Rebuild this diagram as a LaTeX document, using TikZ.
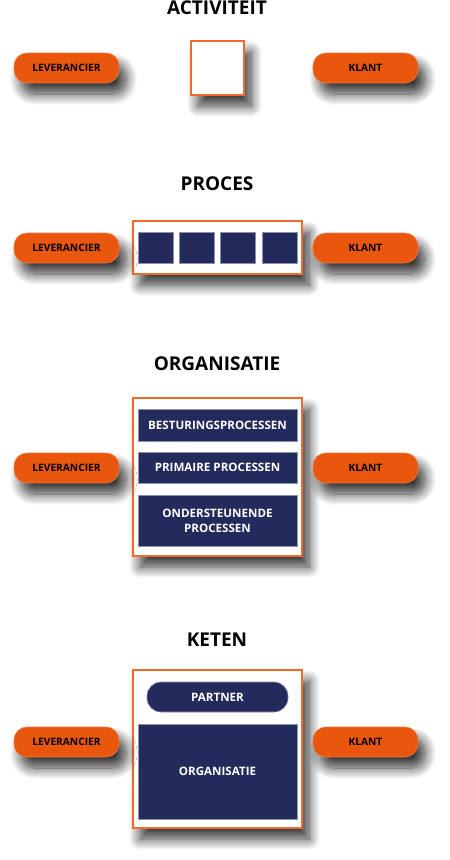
\documentclass[tikz,border=0pt]{standalone}
\usepackage{fontspec}
\setmainfont{Open Sans}
\usepackage{xcolor}
\usepackage{tikz}
\usetikzlibrary{positioning, shadows.blur}

\definecolor{oranje}{HTML}{E9560E}
\definecolor{oranjelijn}{HTML}{F06A2A}
\definecolor{navy}{HTML}{232A5C}
\definecolor{navylijn}{HTML}{8A90B0}

\begin{document}
\begin{tikzpicture}[
    x=1pt, y=-1pt,
    schaduw/.style={blur shadow={shadow xshift=7pt, shadow yshift=-11pt, shadow blur radius=11pt, shadow blur steps=14, shadow opacity=80}},
    titel/.style={inner sep=0pt, font=\fontsize{19}{22}\selectfont\bfseries},
    pill/.style={rectangle, fill=oranje, draw=oranje!80!white, line width=0.6pt, rounded corners=13pt, minimum width=105pt, minimum height=30pt, inner sep=0pt, align=center, font=\fontsize{10.2}{12}\selectfont\bfseries, schaduw},
    kader/.style={rectangle, draw=oranjelijn, fill=white, line width=1.4pt, inner sep=0pt, schaduw},
    blok/.style={rectangle, fill=navy, draw=navylijn, line width=0.6pt, minimum width=159pt, inner sep=0pt, align=center, text=white, font=\fontsize{11.6}{15}\selectfont\bfseries},
    stap/.style={rectangle, fill=navy, draw=navylijn, line width=0.6pt, minimum width=35pt, minimum height=31pt, inner sep=0pt}
]
\useasboundingbox (0,0) rectangle (450,860);

% Activiteit
\node[titel] (t_act) at (217,8) {ACTIVITEIT};
\node[kader, minimum width=53pt, minimum height=54pt] (k_act) at (217.5,68) {};
\node[pill] (lev_act) at (66.5,68) {LEVERANCIER};
\node[pill] (klant_act) at (365.5,68) {KLANT};

% Proces
\node[titel] (t_proc) at (217,184) {PROCES};
\node[kader, minimum width=169pt, minimum height=53pt] (k_proc) at (217.5,247.5) {};
\foreach \i/\x in {1/155.5, 2/196.8, 3/238.2, 4/279.5}
    \node[stap] (stap\i) at (\x,247.5) {};
\node[pill] (lev_proc) at (66.5,248) {LEVERANCIER};
\node[pill] (klant_proc) at (365.5,248) {KLANT};

% Organisatie
\node[titel] (t_org) at (217,364) {ORGANISATIE};
\node[kader, minimum width=169pt, minimum height=158pt] (k_org) at (217.5,477) {};
\node[blok, minimum height=32pt] (besturing) at (217.5,425) {BESTURINGSPROCESSEN};
\node[blok, minimum height=31pt] (primair) at (217.5,467.5) {PRIMAIRE PROCESSEN};
\node[blok, minimum height=51pt] (ondersteunend) at (217.5,520.5) {ONDERSTEUNENDE\\PROCESSEN};
\node[pill] (lev_org) at (66.5,468) {LEVERANCIER};
\node[pill] (klant_org) at (365.5,468) {KLANT};

% Keten
\node[titel] (t_ket) at (217,640) {KETEN};
\node[kader, minimum width=169pt, minimum height=158pt] (k_ket) at (217.5,749) {};
\node[blok, minimum width=141pt, minimum height=30pt, rounded corners=14pt] (partner) at (217.5,697) {PARTNER};
\node[blok, minimum height=95pt] (organisatie) at (217.5,771.5) {ORGANISATIE};
\node[pill] (lev_ket) at (66.5,742) {LEVERANCIER};
\node[pill] (klant_ket) at (365.5,742) {KLANT};

\end{tikzpicture}
\end{document}
